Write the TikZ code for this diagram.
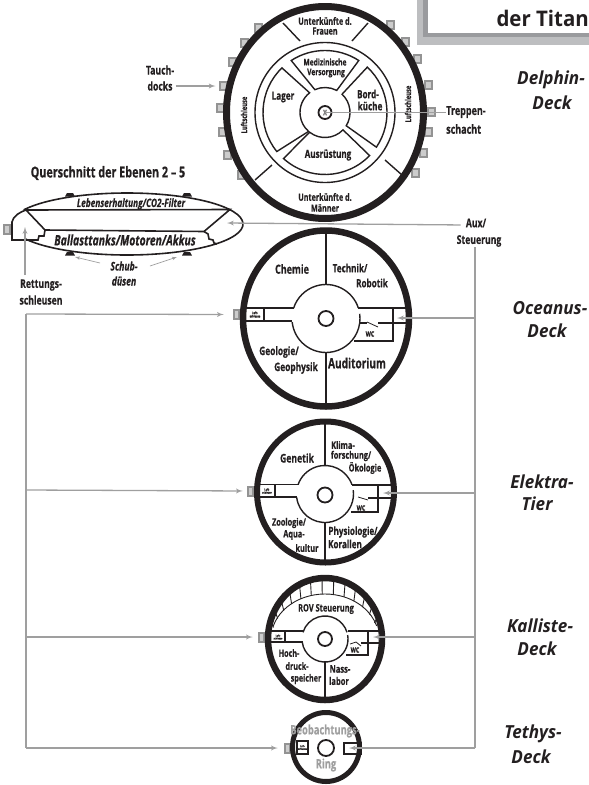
\documentclass[tikz,border=0pt]{standalone}
\usepackage{fontspec}
\setmainfont[FakeStretch=0.72, BoldFeatures={FakeBold=0.5}, BoldItalicFeatures={FakeBold=0.5}]{Open Sans}
\newfontfamily\deckfont[FakeStretch=0.95]{Open Sans}
\usetikzlibrary{arrows, positioning}
\definecolor{ink}{HTML}{231F20}
\definecolor{frameL}{HTML}{BDBEC0}
\definecolor{frameD}{HTML}{9A9B9E}
\tikzstyle{wall} = [draw=ink, line width=1.4pt]
\tikzstyle{hull} = [draw=ink, line width=6.5pt]
\tikzstyle{lbl} = [inner sep=0pt, text=ink, font=\bfseries]
\tikzstyle{deck} = [inner sep=0pt, text=ink, font=\deckfont\bfseries\itshape\fontsize{18}{18}\selectfont]
\tikzstyle{dock} = [rectangle, draw=gray!85, line width=2pt, fill=gray!40, inner sep=0pt, minimum width=7pt, minimum height=7.5pt]
\tikzstyle{sidedock} = [dock, minimum width=5.5pt, minimum height=9pt]
\tikzstyle{line} = [draw=gray!75, line width=1.3pt]
\tikzstyle{arrow} = [line, -latex']
\tikzstyle{thin arrow} = [draw=gray!75, line width=0.7pt, -latex']
\tikzstyle{knob} = [circle, draw=ink, line width=1.8pt, fill=white, minimum size=13pt, inner sep=0pt]
\newcommand{\fs}[1]{\fontsize{#1}{#1}\selectfont}
\begin{document}
\begin{tikzpicture}[x=1pt, y=1pt, yscale=-1]
      \useasboundingbox (0,0) rectangle (589,785);
      % Title frame
      \fill [frameL] (417,0) rectangle (589,45);
      \fill [frameD] (423,0) rectangle (589,37);
      \fill [white] (428,0) rectangle (589,33);
      \node [lbl, anchor=east, font=\deckfont\bfseries\fs{21.5}] (title) at (589,18) {der Titan};
      % Docks round the upper deck
      \foreach \x/\y [count=\i] in {258/28,244/43,232/62,223/86,220/108,222/132,227/155,241/175,
          390/25,405/42,417/59,428/85,431/112,428/132,423/153,415/173}
          \node [dock] (dock\i) at (\x,\y) {};
      % Delphin deck
      \coordinate (dc) at (325,112.5);
      \draw [hull, line width=7pt] (dc) circle [x radius=98.5, y radius=106];
      \draw [wall] (dc) circle [radius=70];
      \draw [wall] (283,23) -- (300,41);
      \draw [wall] (368,23) -- (352,41);
      \draw [wall] (255,180) -- (272,165);
      \draw [wall] (385,160) -- (402,175);
      \foreach \oa/\ob/\ia/\ib in {-47/34/-47/32, 44/132/44/128, 141/226/131/232, 237/303/246/298}
          \draw [wall, line width=1.4pt] ([shift={(\oa:62)}]dc) arc [start angle=\oa, end angle=\ob, radius=62]
              -- ([shift={(\ib:25)}]dc) arc [start angle=\ib, end angle=\ia, radius=25] -- cycle;
      \node [knob] (dknob) at (dc) {};
      \node [lbl, text=gray, font=\bfseries\fs{10}] (dx) at (dc) {x};
      \node [lbl, font=\bfseries\fs{10}] (dfrauen1) at (325,21) {Unterkünfte d.};
      \node [lbl, font=\bfseries\fs{10}] (dfrauen2) at (325,31) {Frauen};
      \node [lbl, font=\bfseries\fs{9.2}] (dmed1) at (325,62) {Medizinische};
      \node [lbl, font=\bfseries\fs{9.2}] (dmed2) at (326,73) {Versorgung};
      \node [lbl, font=\bfseries\fs{11.3}] (dlager) at (283,97) {Lager};
      \node [lbl, font=\bfseries\fs{11.3}] (dbord1) at (368,94) {Bord-};
      \node [lbl, font=\bfseries\fs{11.3}] (dbord2) at (370,106) {küche};
      \node [lbl, font=\bfseries\fs{11.2}] (daus) at (328,155) {Ausrüstung};
      \node [lbl, font=\bfseries\fs{10}] (dmaenner1) at (325,197) {Unterkünfte d.};
      \node [lbl, font=\bfseries\fs{10}] (dmaenner2) at (325,208) {Männer};
      \node [lbl, rotate=90, font=\bfseries\fs{8}] (dluft1) at (244,115) {Luftschleuse};
      \node [lbl, rotate=90, font=\bfseries\fs{8}] (dluft2) at (408,104) {Luftschleuse};
      \node [lbl, font=\bfseries\fs{12}] (tauch1) at (160,70) {Tauch-};
      \node [lbl, font=\bfseries\fs{12}] (tauch2) at (160,86) {docks};
      \node [lbl, anchor=west, font=\bfseries\fs{12.5}] (trepp1) at (446,112) {Treppen-};
      \node [lbl, anchor=west, font=\bfseries\fs{12.5}] (trepp2) at (446,129) {schacht};
      \draw [arrow, shorten <=3pt, shorten >=3pt] (tauch2) -- (dock4);
      \path [line] (dc) -- (trepp1.west |- dc);
      % Cross section
      \node [lbl, font=\bfseries\fs{15}] (qtitle) at (108,173) {Querschnitt der Ebenen 2 – 5};
      \coordinate (qc) at (127,224);
      \coordinate (qtl) at (26,210);
      \coordinate (qtr) at (230,209.5);
      \coordinate (qbl) at (45,230);
      \coordinate (qbr) at (204,231.5);
      \draw [wall, line width=1.6pt] ([shift={(207:116 and 31)}]qc) arc [start angle=207, end angle=511, x radius=116, y radius=31];
      \foreach \x/\y in {70/195,187/195,70/254,187/254}
          \fill [ink] (\x-5,\y+1.5) -- (\x-3,\y-2) -- (\x+3,\y-2) -- (\x+5,\y+1.5) -- cycle;
      \draw [wall, line width=1.6pt] (qtl) -- (qtr) -- (qbr) -- (qbl) -- cycle;
      \draw [wall, line width=1.6pt] (qbl) -- (44,236) -- (39,236) -- (38,240) -- (12,240) -- (12,222) .. controls (13,216) and (20,212) .. (qtl);
      \draw [wall, line width=1.6pt] (qbr) -- (208,234) -- (209,239) -- (213,240) -- (214,243) -- (217,244);
      \node [sidedock] (qdock) at (7,229) {};
      \node [lbl, font=\bfseries\itshape\fs{11.5}] (qleben) at (131,204) {Lebenserhaltung/CO2-Filter};
      \node [lbl, font=\bfseries\itshape\fs{14.4}] (qballast) at (125,240) {Ballasttanks/Motoren/Akkus};
      \node [lbl, font=\bfseries\itshape\fs{12}] (qschub1) at (124,266) {Schub-};
      \node [lbl, font=\bfseries\itshape\fs{12}] (qschub2) at (124,281) {düsen};
      \node [lbl, font=\bfseries\fs{12}] (qrett1) at (41,285) {Rettungs-};
      \node [lbl, font=\bfseries\fs{12}] (qrett2) at (41,300) {schleusen};
      \coordinate (qin) at (25,227);
      \coordinate (qrett) at (25,275);
      \coordinate (qt1) at (75,257);
      \coordinate (qs1) at (100,263);
      \coordinate (qt2) at (177,257);
      \coordinate (qs2) at (150,266);
      \draw [arrow] (qrett) -- (qin);
      \draw [thin arrow] (qs1) -- (qt1);
      \draw [thin arrow] (qs2) -- (qt2);
      % Oceanus deck
      \coordinate (oc) at (326,318.5);
      \node [sidedock] (odock) at (236.5,314.5) {};
      \draw [hull] (oc) circle [x radius=83, y radius=88];
      \draw [wall] ([shift={(-18:34)}]oc) arc [start angle=-18, end angle=-162, radius=34];
      \draw [wall] ([shift={(174:34)}]oc) arc [start angle=174, end angle=-8, radius=34];
      \draw [wall] (326,230) -- (326,284.5);
      \draw [wall] (326,352.5) -- (326,404);
      \draw [wall] (244,308) -- (293.5,308);
      \draw [wall] (244,321) -- (292,321);
      \draw [wall] (264,308) -- (264,321);
      \draw [wall] (358,308) -- (408,308);
      \draw [wall] (378,323) -- (408,323);
      \draw [wall] (393,308) -- (393,341) -- (354,341);
      \draw [wall, line width=0.8pt] (367,322) -- (378,327);
      \draw [wall] (360,323) -- (367,323);
      \node [knob, minimum size=15pt] (oknob) at (oc) {};
      \node [lbl, font=\bfseries\fs{3.4}, align=center] (oluft) at (255,314.5) {Luft-\\schleuse};
      \node [lbl, font=\bfseries\fs{7.5}] (owc) at (370,334) {WC};
      \node [lbl, font=\bfseries\fs{12.5}] (ochemie) at (292,269) {Chemie};
      \node [lbl, font=\bfseries\fs{11.3}] (otech1) at (350,268) {Technik/};
      \node [lbl, font=\bfseries\fs{11.3}] (otech2) at (372,283) {Robotik};
      \node [lbl, font=\bfseries\fs{11.6}] (ogeo1) at (279,352) {Geologie/};
      \node [lbl, font=\bfseries\fs{11.6}] (ogeo2) at (296,368) {Geophysik};
      \node [lbl, font=\bfseries\fs{14}] (oaud) at (357,363) {Auditorium};
      % Elektra deck
      \coordinate (ec) at (325.5,492);
      \coordinate (eh) at (325,494);
      \node [sidedock] (edock) at (250.5,491) {};
      \draw [hull, line width=6pt] (ec) circle [x radius=68.5, y radius=70.5];
      \draw [wall] ([shift={(-19:28.5)}]eh) arc [start angle=-19, end angle=-161, radius=28.5];
      \draw [wall] ([shift={(173:28.5)}]eh) arc [start angle=173, end angle=-8, radius=28.5];
      \draw [wall] (325,421) -- (325,465.5);
      \draw [wall] (325,522.5) -- (325,563);
      \draw [wall] (258,484.5) -- (298,484.5);
      \draw [wall] (258,497) -- (297,497);
      \draw [wall] (275,484.5) -- (275,497);
      \draw [wall] (352,485) -- (394,485);
      \draw [wall] (368,498) -- (394,498);
      \draw [wall] (378,485) -- (378,512) -- (351,512);
      \draw [wall, line width=0.8pt] (358,497) -- (368,500);
      \node [knob, minimum size=15pt] (eknob) at (325,495) {};
      \node [lbl, font=\bfseries\fs{3}, align=center] (eluft) at (267,491) {Luft-\\schleuse};
      \node [lbl, font=\bfseries\fs{7.5}] (ewc) at (361,508) {WC};
      \node [lbl, font=\bfseries\fs{12}] (egen) at (297,458) {Genetik};
      \node [lbl, font=\bfseries\fs{10.3}] (eklima1) at (343,445) {Klima-};
      \node [lbl, font=\bfseries\fs{10.3}] (eklima2) at (351,456) {forschung/};
      \node [lbl, font=\bfseries\fs{10.3}] (eklima3) at (365,468) {Ökologie};
      \node [lbl, font=\bfseries\fs{10.2}] (ezoo1) at (289,523) {Zoologie/};
      \node [lbl, font=\bfseries\fs{10.2}] (ezoo2) at (294,535) {Aqua-};
      \node [lbl, font=\bfseries\fs{10.2}] (ezoo3) at (307,548) {kultur};
      \node [lbl, font=\bfseries\fs{11.2}] (ephys1) at (353,532) {Physiologie/};
      \node [lbl, font=\bfseries\fs{11.2}] (ephys2) at (345,544) {Korallen};
      % Kalliste deck
      \coordinate (kc) at (325,639);
      \node [sidedock] (kdock) at (261.5,637) {};
      \draw [hull] (kc) circle [x radius=57, y radius=61];
      \draw [wall] ([shift={(-17:23)}]kc) arc [start angle=-17, end angle=-163, radius=23];
      \draw [wall] ([shift={(172:23)}]kc) arc [start angle=172, end angle=-10, radius=23];
      \draw [wall, line width=0.9pt] ([shift={(-163:54 and 45)}]kc) arc [start angle=-163, end angle=-17, x radius=54, y radius=45];
      \foreach \a in {-165,-153,...,-15}
          \draw [wall, line width=0.9pt] ([shift={(\a:53 and 45)}]kc) -- ([shift={(\a:56 and 60)}]kc);
      \draw [wall] (325,662) -- (325,698);
      \draw [wall] (270,631) -- (303,631);
      \draw [wall] (270,642) -- (303,642);
      \draw [wall] (285,631) -- (285,642);
      \draw [wall] (348,631) -- (379,631);
      \draw [wall] (361,643) -- (379,643);
      \draw [wall] (368,631) -- (368,655) -- (346,655);
      \draw [wall, line width=0.8pt] (350,644) -- (356,642) -- (361,646);
      \node [knob, minimum size=14pt] (kknob) at (kc) {};
      \node [lbl, font=\bfseries\fs{2.8}, align=center] (kluft) at (278,637) {Luft-\\schleuse};
      \node [lbl, font=\bfseries\fs{7.5}] (kwc) at (355,650) {WC};
      \node [lbl, font=\bfseries\fs{10.3}] (krov) at (326,609) {ROV Steuerung};
      \node [lbl, font=\bfseries\fs{10}] (khoch1) at (289,653) {Hoch-};
      \node [lbl, font=\bfseries\fs{10}] (khoch2) at (297,666) {druck-};
      \node [lbl, font=\bfseries\fs{10}] (khoch3) at (306,679) {speicher};
      \node [lbl, font=\bfseries\fs{10.5}] (knass1) at (340,669) {Nass-};
      \node [lbl, font=\bfseries\fs{10.5}] (knass2) at (339,681) {labor};
      % Tethys deck
      \coordinate (tc) at (326,747);
      \node [sidedock] (tdock) at (287.5,748) {};
      \draw [hull, line width=5pt] (tc) circle [x radius=33.5, y radius=34.5];
      \draw [wall] (297,741) rectangle (308,754);
      \draw [wall] (344,743) rectangle (361,754);
      \node [knob, minimum size=16pt] (tknob) at (326,748) {};
      \node [lbl, font=\bfseries\fs{2.8}, align=center] (tluft) at (302.5,747.5) {Luft-\\schleuse};
      \node [lbl, text=gray!75, font=\bfseries\fs{13}] (tbeo) at (325,731) {Beobachtungs-};
      \node [lbl, text=gray!75, font=\bfseries\fs{13}] (tring) at (326,765) {Ring};
      % Deck names
      \node [deck] (ndelphin1) at (551,80) {Delphin-};
      \node [deck] (ndelphin2) at (552,103) {Deck};
      \node [deck] (noceanus1) at (550,308) {Oceanus-};
      \node [deck] (noceanus2) at (547,331) {Deck};
      \node [deck] (nelektra1) at (542,482) {Elektra-};
      \node [deck] (nelektra2) at (537,504) {Tier};
      \node [deck] (nkalliste1) at (540,626) {Kalliste-};
      \node [deck] (nkalliste2) at (537,649) {Deck};
      \node [deck] (ntethys1) at (533,734) {Tethys-};
      \node [deck] (ntethys2) at (531,757) {Deck};
      % Aux and rescue lines
      \node [lbl, font=\bfseries\fs{12}] (aux1) at (476,223) {Aux/};
      \node [lbl, font=\bfseries\fs{12}] (aux2) at (479,241) {Steuerung};
      \coordinate (auxq) at (227,223);
      \coordinate (ra) at (475,247);
      \coordinate (ro) at (475,318);
      \coordinate (re) at (475,493);
      \coordinate (rk) at (475,637);
      \coordinate (rt) at (475,748);
      \coordinate (ohit) at (397,318);
      \coordinate (ehit) at (383,493);
      \coordinate (khit) at (373,637);
      \coordinate (thit) at (349,748);
      \coordinate (lo) at (26,314);
      \coordinate (le) at (26,490);
      \coordinate (lk) at (26,637);
      \coordinate (lt) at (26,748);
      \draw [arrow, shorten <=5pt] (aux1.west |- 0,225) -- (auxq);
      \path [line] (ra) -- (rt);
      \draw [arrow] (ro) -- (ohit);
      \draw [arrow] (re) -- (ehit);
      \draw [arrow] (rk) -- (khit);
      \draw [arrow] (rt) -- (thit);
      \path [line] (lo) -- (lt);
      \draw [arrow, shorten >=9pt] (lo) -- (odock.west);
      \draw [arrow, shorten >=4pt] (le) -- (edock.west);
      \draw [arrow, shorten >=5pt] (lk) -- (kdock.west);
      \draw [arrow, shorten >=6pt] (lt) -- (tdock.west);
  \end{tikzpicture}
\end{document}
